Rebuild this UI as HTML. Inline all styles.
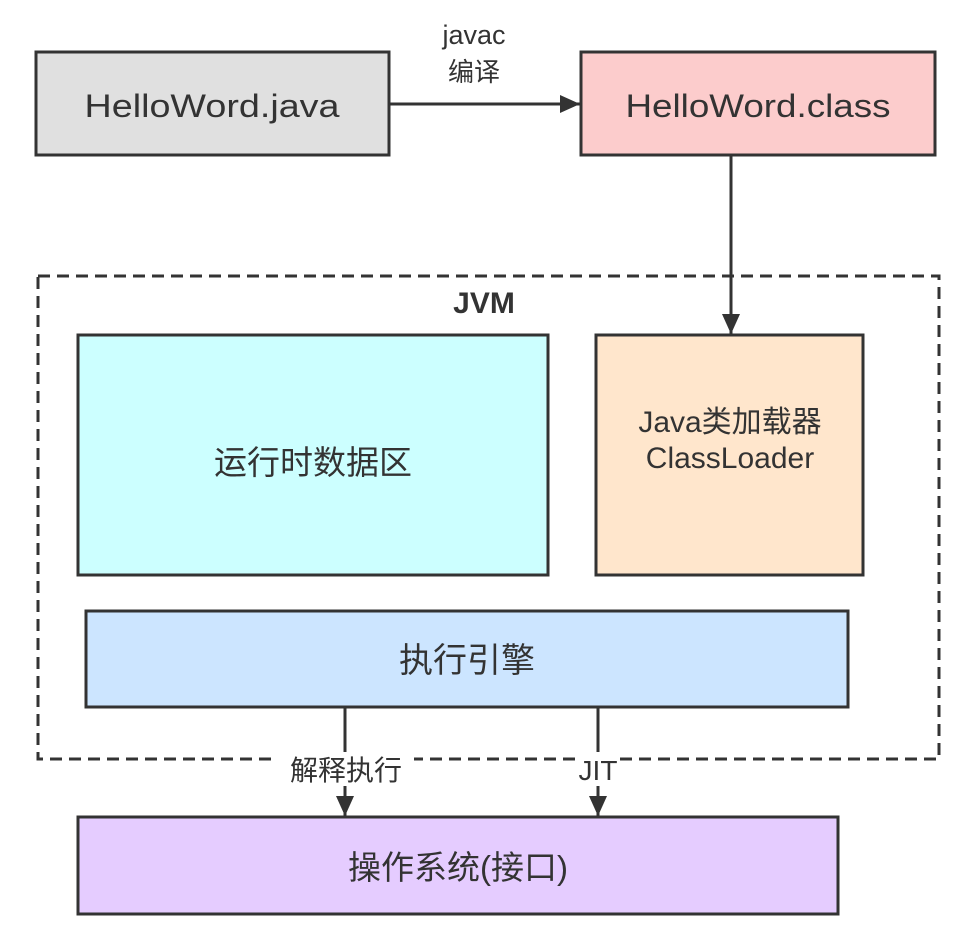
<!DOCTYPE html>
<html><head><meta charset="utf-8"><style>
html,body{margin:0;padding:0;background:#fff;}
svg text{font-family:"Liberation Sans","Noto Sans CJK SC",sans-serif;fill:#333;}
</style></head><body>
<svg width="966" height="930" viewBox="0 0 966 930" xmlns="http://www.w3.org/2000/svg">
<defs>
<marker id="b" markerWidth="22" markerHeight="22" refX="20" refY="9" orient="auto" markerUnits="userSpaceOnUse"><path d="M0,0 L20,9 L0,18 Z" fill="#333"/></marker>
</defs>
<rect x="0" y="0" width="966" height="930" fill="#fff"/>
<rect x="38" y="276" width="901" height="483" fill="none" stroke="#333" stroke-width="3" stroke-dasharray="12,7"/>
<text x="484" y="313" font-size="30" font-weight="bold" text-anchor="middle">JVM</text>
<rect x="36" y="52" width="353" height="103" fill="#e0e0e0" stroke="#333" stroke-width="3"/>
<text x="212" y="117" font-size="32" text-anchor="middle" textLength="255" lengthAdjust="spacingAndGlyphs">HelloWord.java</text>
<rect x="581" y="52" width="354" height="103" fill="#fccccc" stroke="#333" stroke-width="3"/>
<text x="758" y="117" font-size="32" text-anchor="middle" textLength="265" lengthAdjust="spacingAndGlyphs">HelloWord.class</text>
<line x1="390" y1="104" x2="580" y2="104" stroke="#333" stroke-width="3" marker-end="url(#b)"/>
<text x="474" y="44" font-size="27" text-anchor="middle">javac</text>
<text x="474" y="81" font-size="26" text-anchor="middle">编译</text>
<line x1="731" y1="156" x2="731" y2="334" stroke="#333" stroke-width="3" marker-end="url(#b)"/>
<rect x="78" y="335" width="470" height="240" fill="#ccffff" stroke="#333" stroke-width="3"/>
<text x="313" y="474" font-size="33" text-anchor="middle">运行时数据区</text>
<rect x="596" y="335" width="267" height="240" fill="#ffe6cc" stroke="#333" stroke-width="3"/>
<text x="730" y="432" font-size="30" text-anchor="middle">Java类加载器</text>
<text x="730" y="468" font-size="30" text-anchor="middle">ClassLoader</text>
<rect x="86" y="611" width="762" height="96" fill="#cce5ff" stroke="#333" stroke-width="3"/>
<text x="467" y="672" font-size="34" text-anchor="middle">执行引擎</text>
<line x1="345" y1="708" x2="345" y2="816" stroke="#333" stroke-width="3" marker-end="url(#b)"/>
<line x1="598" y1="708" x2="598" y2="816" stroke="#333" stroke-width="3" marker-end="url(#b)"/>
<rect x="278" y="752" width="136" height="34" fill="#fff"/>
<text x="346" y="780" font-size="28" text-anchor="middle">解释执行</text>
<rect x="578" y="752" width="42" height="34" fill="#fff"/>
<text x="598" y="780" font-size="28" text-anchor="middle">JIT</text>
<rect x="78" y="817" width="760" height="97" fill="#e5ccff" stroke="#333" stroke-width="3"/>
<text x="458" y="879" font-size="33" text-anchor="middle">操作系统(接口)</text>
</svg>
</body></html>
